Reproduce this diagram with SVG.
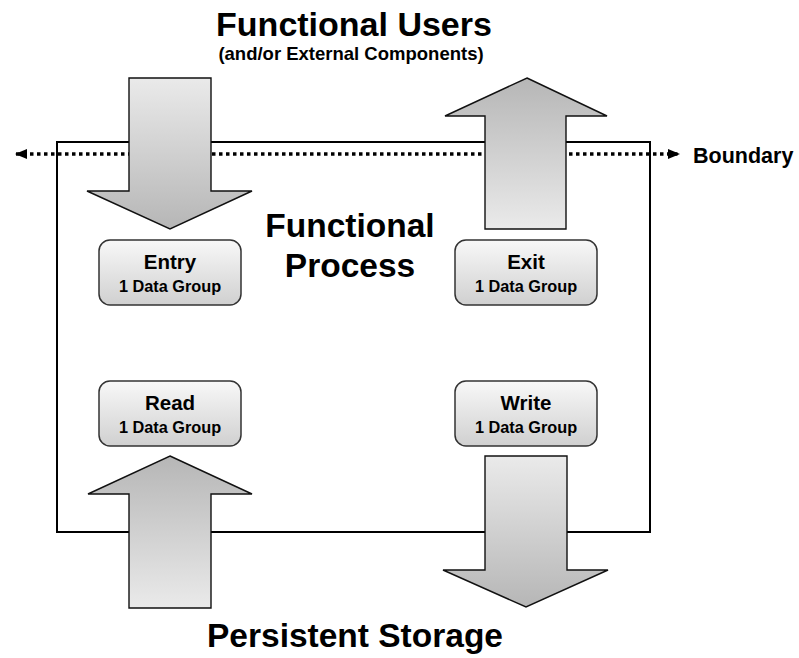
<svg xmlns="http://www.w3.org/2000/svg" width="799" height="658" viewBox="0 0 799 658">
  <defs>
    <linearGradient id="flowDown" x1="0" y1="0" x2="0" y2="1">
      <stop offset="0" stop-color="#eaeaea"/>
      <stop offset="1" stop-color="#b6b6b6"/>
    </linearGradient>
    <linearGradient id="flowUp" x1="0" y1="1" x2="0" y2="0">
      <stop offset="0" stop-color="#eaeaea"/>
      <stop offset="1" stop-color="#b6b6b6"/>
    </linearGradient>
    <linearGradient id="boxFill" x1="0" y1="0" x2="0" y2="1">
      <stop offset="0" stop-color="#f8f8f8"/>
      <stop offset="1" stop-color="#d0d0d0"/>
    </linearGradient>
    <marker id="tip" viewBox="0 0 12 10" refX="11" refY="5" markerWidth="12" markerHeight="10" markerUnits="userSpaceOnUse" orient="auto-start-reverse">
      <path d="M0,0 L12,5 L0,10 Z" fill="#000"/>
    </marker>
  </defs>
  <style>
    text { font-family: "Liberation Sans", Arial, sans-serif; font-weight: bold; fill: #000; text-anchor: middle; }
    .title { font-size: 33.5px; }
    .sub { font-size: 18.5px; }
    .box { fill: url(#boxFill); stroke: #333; stroke-width: 1.5; }
    .name { font-size: 20.5px; }
    .count { font-size: 16.3px; }
    .flow { stroke: #111; stroke-width: 1.4; }
  </style>

  <rect width="799" height="658" fill="#fff"/>

  <!-- process boundary box -->
  <rect id="process-frame" x="57" y="142" width="593" height="390" fill="#fff" stroke="#000" stroke-width="2"/>

  <g id="connectors">
    <!-- boundary line -->
    <line x1="16" y1="154" x2="679" y2="154" stroke="#000" stroke-width="3.5" stroke-dasharray="3.5 3.5" marker-start="url(#tip)" marker-end="url(#tip)"/>
    <!-- data movement arrows -->
    <path id="entry-flow" class="flow" fill="url(#flowDown)" d="M129,78 H211 V191 H252 L170,229 L87,191 H129 Z"/>
    <path id="exit-flow" class="flow" fill="url(#flowUp)" d="M527,78 L607,116 H566 V229 H485 V116 H445 Z"/>
    <path id="read-flow" class="flow" fill="url(#flowUp)" d="M170,456 L252,494 H211 V608 H129 V494 H88 Z"/>
    <path id="write-flow" class="flow" fill="url(#flowDown)" d="M485,456 H567 V570 H608 L526,607 L443,570 H485 Z"/>
  </g>

  <g id="title-users">
    <text class="title" x="354" y="36" style="font-size:34px">Functional Users</text>
    <text class="sub" x="351" y="60">(and/or External Components)</text>
  </g>

  <g id="title-process">
    <text class="title" x="350" y="237">Functional</text>
    <text class="title" x="350" y="277">Process</text>
  </g>

  <g id="title-storage">
    <text class="title" x="355" y="647">Persistent Storage</text>
  </g>

  <g id="label-boundary">
    <text x="693" y="163" style="font-size:21.5px;text-anchor:start">Boundary</text>
  </g>

  <g id="node-entry">
    <rect class="box" x="99" y="240" width="142" height="65" rx="11"/>
    <text class="name" x="170" y="269">Entry</text>
    <text class="count" x="170" y="292">1 Data Group</text>
  </g>

  <g id="node-exit">
    <rect class="box" x="455" y="240" width="142" height="65" rx="11"/>
    <text class="name" x="526" y="269">Exit</text>
    <text class="count" x="526" y="292">1 Data Group</text>
  </g>

  <g id="node-read">
    <rect class="box" x="99" y="381" width="142" height="65" rx="11"/>
    <text class="name" x="170" y="410">Read</text>
    <text class="count" x="170" y="433">1 Data Group</text>
  </g>

  <g id="node-write">
    <rect class="box" x="455" y="381" width="142" height="65" rx="11"/>
    <text class="name" x="526" y="410">Write</text>
    <text class="count" x="526" y="433">1 Data Group</text>
  </g>
</svg>
